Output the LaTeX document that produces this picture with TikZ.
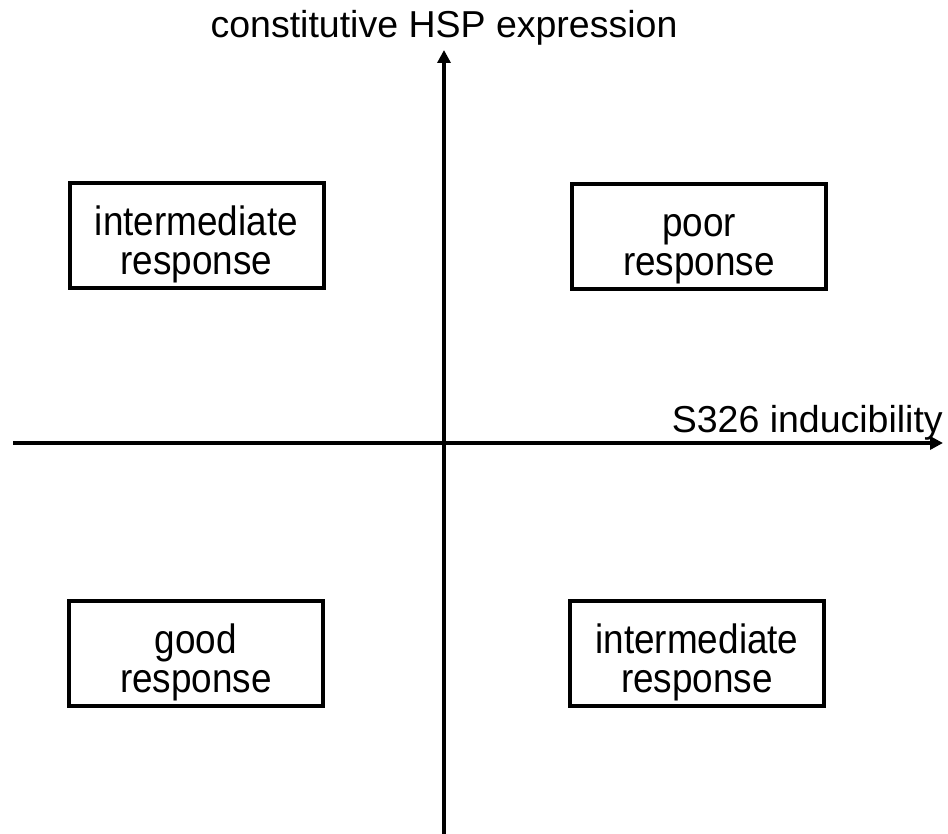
\documentclass[tikz,border=0pt]{standalone}
\usepackage{fontspec}
\setmainfont{Liberation Sans}
\newfontfamily\boxfont[FakeStretch=0.9]{Liberation Sans}
\usetikzlibrary{arrows.meta}
\begin{document}
\begin{tikzpicture}[x=1pt,y=-1pt,
  axis/.style={line width=4pt,-{Triangle[length=13pt,width=13pt]}},
  box/.style={draw,line width=4pt,minimum width=254pt,minimum height=105pt,inner sep=0pt},
  boxtext/.style={align=center,inner sep=0pt,anchor=base,font=\boxfont\fontsize{41}{39}\selectfont},
  axtext/.style={inner sep=0pt,font=\fontsize{37.5}{40}\selectfont}]
\useasboundingbox (0,0) rectangle (948,834);
\coordinate (vb) at (444,834);
\coordinate (vt) at (444,50);
\coordinate (hl) at (13,443);
\coordinate (hr) at (943,443);
\draw[axis] (vb) -- (vt);
\draw[axis] (hl) -- (hr);
\node[axtext,anchor=base] (ytitle) at (444,38) {constitutive HSP expression};
\node[axtext,anchor=base east] (xtitle) at (943,432) {S326 inducibility};
\node[box] (tl) at (196.5,236) {};
\node[box] (tr) at (699,237) {};
\node[box] (bl) at (196,653) {};
\node[box] (br) at (697,653) {};
\node[boxtext] (tlt) at ([yshift=-39pt]tl.center) {intermediate\\response};
\node[boxtext] (trt) at ([yshift=-39pt]tr.center) {poor\\response};
\node[boxtext] (blt) at ([yshift=-39pt]bl.center) {good\\response};
\node[boxtext] (brt) at ([yshift=-39pt]br.center) {intermediate\\response};
\end{tikzpicture}
\end{document}
